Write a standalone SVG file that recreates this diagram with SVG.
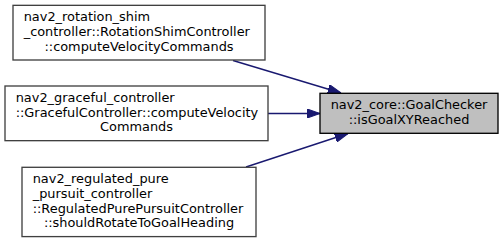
<svg xmlns="http://www.w3.org/2000/svg" width="504" height="242" viewBox="0 0 504 242">
<style>
.box{fill:#ffffff;stroke:#404040;stroke-width:1.33}
.root{fill:#bfbfbf;stroke:#000000;stroke-width:1.33}
text{font-family:"DejaVu Sans","Liberation Sans",sans-serif;font-size:12.9px;fill:#000}
.c{text-anchor:middle}
.edge{stroke:#191970;stroke-width:1.33;fill:none;marker-end:url(#arr)}
</style>
<defs>
<marker id="arr" viewBox="0 0 10 7" refX="10" refY="3.5" markerWidth="13.33" markerHeight="9.33" markerUnits="userSpaceOnUse" orient="auto">
<path d="M0,0 L10,3.5 L0,7 Z" fill="#191970" stroke="#191970" stroke-width="0.8"/>
</marker>
</defs>
<g id="connectors">
<path class="edge" d="M233,60.5 L341,93"/>
<path class="edge" d="M268,113.5 L320,113.5"/>
<path class="edge" d="M246,167 L348,133.5"/>
</g>
<g id="node_target">
<rect class="root" x="320" y="93.3" width="178" height="40"/>
<text class="c" x="409" y="109">nav2_core::GoalChecker</text>
<text class="c" x="409" y="123.7">::isGoalXYReached</text>
</g>
<g id="node_rotation_shim">
<rect class="box" x="13" y="5.33" width="252" height="54.67"/>
<text x="23.7" y="21.3">nav2_rotation_shim</text>
<text x="23.7" y="36">_controller::RotationShimController</text>
<text class="c" x="139" y="50.7">::computeVelocityCommands</text>
</g>
<g id="node_graceful">
<rect class="box" x="5" y="86" width="263" height="54.67"/>
<text x="15.7" y="102">nav2_graceful_controller</text>
<text x="15.7" y="116.7">::GracefulController::computeVelocity</text>
<text class="c" x="136.5" y="131.3">Commands</text>
</g>
<g id="node_regulated">
<rect class="box" x="22" y="167.3" width="234" height="69.3"/>
<text x="32.7" y="183.3">nav2_regulated_pure</text>
<text x="32.7" y="198">_pursuit_controller</text>
<text x="32.7" y="212.7">::RegulatedPurePursuitController</text>
<text class="c" x="139" y="227.3">::shouldRotateToGoalHeading</text>
</g>
</svg>
